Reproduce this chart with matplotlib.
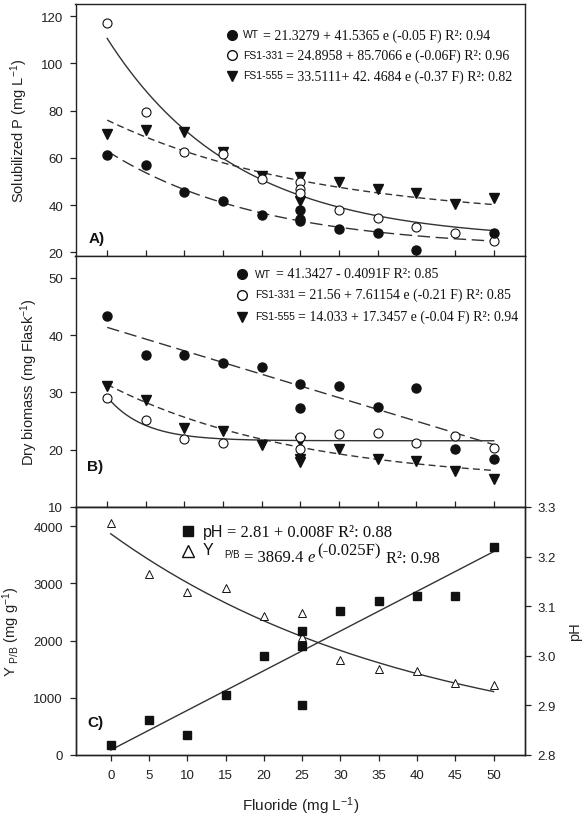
import numpy as np
import matplotlib.pyplot as plt

plt.rcParams['font.family'] = ['Liberation Sans', 'DejaVu Sans']
plt.rcParams['mathtext.fontset'] = 'custom'
plt.rcParams['mathtext.rm'] = 'Liberation Sans'
plt.rcParams['mathtext.it'] = 'Liberation Sans:italic'

W, H = 583, 829

# ---- panel A: solubilized P (mg/L)
wt_p_x = [0, 5, 10, 15, 20, 25, 25, 25, 30, 35, 40, 50]
wt_p_y = [61.2, 57.1, 45.6, 41.5, 35.8, 37.8, 34.1, 33.1, 29.9, 28.1, 21.0, 28.2]
fs331_p_x = [0, 5, 10, 15, 20, 25, 25, 25, 30, 35, 40, 45, 50]
fs331_p_y = [117.2, 79.3, 62.4, 61.7, 51.1, 49.9, 46.6, 45.1, 37.9, 34.5, 30.9, 28.1, 24.9]
fs555_p_x = [0, 5, 10, 15, 20, 25, 25, 30, 35, 40, 45, 50]
fs555_p_y = [70.1, 72.0, 70.8, 62.4, 52.2, 51.8, 41.9, 49.9, 46.8, 45.0, 40.5, 42.9]

# ---- panel B: dry biomass (mg/flask)
wt_b_x = [0, 5, 10, 15, 20, 25, 25, 30, 35, 40, 45, 50]
wt_b_y = [43.3, 36.5, 36.5, 35.1, 34.5, 31.4, 27.3, 31.2, 27.4, 30.8, 20.2, 18.4]
fs331_b_x = [0, 5, 10, 15, 25, 25, 30, 35, 40, 45, 50]
fs331_b_y = [29.0, 25.1, 21.9, 21.2, 22.3, 20.2, 22.7, 23.0, 21.2, 22.4, 20.3]
fs555_b_x = [0, 5, 10, 15, 20, 25, 25, 25, 30, 35, 40, 45, 50]
fs555_b_y = [31.2, 28.7, 23.8, 23.3, 20.9, 21.5, 18.4, 17.8, 20.2, 18.3, 18.0, 16.2, 14.8]

# ---- panel C: yield and pH
ypb_x = [0, 5, 10, 15, 20, 25, 25, 30, 35, 40, 45, 50]
ypb_y = [4052, 3166, 2857, 2921, 2437, 2478, 2058, 1668, 1504, 1464, 1254, 1224]
ph_x = [0, 5, 10, 15, 20, 25, 25, 25, 30, 35, 40, 45, 50]
ph_y = [2.82, 2.87, 2.84, 2.92, 3.00, 3.05, 3.02, 2.90, 3.09, 3.11, 3.12, 3.12, 3.22]

# fitted models as printed on the chart (a + b*exp(-k F))
fit_wt_p = (21.3279, 41.5365, 0.05)
fit_331_p = (24.8958, 85.7066, 0.06)
fit_555_p = (33.5111, 42.4684, 0.037)   # label says -0.37, curve drawn matches -0.037
fit_wt_b = (41.3427, -0.4091)           # linear
fit_331_b = (21.56, 7.61154, 0.21)
fit_555_b = (14.033, 17.3457, 0.04)
fit_ypb = (3869.4, 0.025)
fit_ph = (2.81, 0.008)

xticks = list(range(0, 55, 5))
ink = '#111111'
F = np.linspace(0, 50, 200)


def expfit(p):
    a, b, k = p
    return a + b * np.exp(-k * F)


def box(top, bot):
    l, r = 75.5, 525
    return [l / W, 1 - bot / H, (r - l) / W, (bot - top) / H]


def chain(fig, x, y, parts):
    # place text pieces one after another on the same line (pixel coords)
    r = fig.canvas.get_renderer()
    for s, dy, gap, kw in parts:
        t = fig.text((x + gap) / W, 1 - (y + dy) / H, s, va='baseline', ha='left',
                     color=ink, **kw)
        x = t.get_window_extent(r).x1


def key(fig, x, y, **kw):
    fig.add_artist(plt.Line2D([x / W], [1 - y / H], linestyle='none', color=ink, **kw))


fig = plt.figure(figsize=(W / 100, H / 100), dpi=100)
axA = fig.add_axes(box(5, 257))
axB = fig.add_axes(box(257, 508))
axC = fig.add_axes(box(508, 756))
axR = axC.twinx()

for ax in (axA, axB, axC, axR):
    for s in ax.spines.values():
        s.set_color('#222222')
        s.set_linewidth(1.0)
    ax.set_xticks(xticks)
    ax.tick_params(labelsize=9.5, length=4, width=0.9, color='#222222', labelcolor='#222222')
    ax.tick_params(axis='y', pad=5)

for ax in (axA, axB):
    ax.set_xlim(-4.1, 54.05)
    ax.tick_params(axis='x', direction='in', labelbottom=False)
axC.set_xlim(-4.6, 54.1)

# panel A
axA.plot(F, expfit(fit_wt_p), color='#333333', lw=1.0, dashes=(9, 4))
axA.plot(F, expfit(fit_331_p), color='#333333', lw=1.0)
axA.plot(F, expfit(fit_555_p), color='#333333', lw=1.0, dashes=(5, 3))
axA.plot(fs555_p_x, fs555_p_y, 'v', color=ink, ms=6.5)
axA.plot(fs331_p_x, fs331_p_y, 'o', mfc='white', mec=ink, mew=0.8, ms=6.5)
axA.plot(wt_p_x, wt_p_y, 'o', color=ink, ms=6.5)
axA.set_ylim(18.4, 125.2)
axA.set_yticks([20, 40, 60, 80, 100, 120])
axA.set_ylabel('Solubilized P (mg L$^{-1}$)', fontsize=10.5, color='#222222')
axA.yaxis.set_label_coords(-0.101, 0.5)
axA.text(0.029, 0.07, 'A)', transform=axA.transAxes, fontsize=11, fontweight='bold',
         color=ink, va='center')

# panel B
axB.plot(F, fit_wt_b[0] + fit_wt_b[1] * F, color='#333333', lw=1.0, dashes=(9, 4))
axB.plot(F, expfit(fit_331_b), color='#333333', lw=1.0)
axB.plot(F, expfit(fit_555_b), color='#333333', lw=1.0, dashes=(5, 3))
axB.plot(fs555_b_x, fs555_b_y, 'v', color=ink, ms=6.5)
axB.plot(fs331_b_x, fs331_b_y, 'o', mfc='white', mec=ink, mew=0.8, ms=6.5)
axB.plot(wt_b_x, wt_b_y, 'o', color=ink, ms=6.5)
axB.set_ylim(10, 53.8)
axB.set_yticks([10, 20, 30, 40, 50])
axB.set_ylabel('Dry biomass (mg Flask$^{-1}$)', fontsize=10.5, color='#222222')
axB.yaxis.set_label_coords(-0.079, 0.5)
axB.text(0.025, 0.163, 'B)', transform=axB.transAxes, fontsize=11, fontweight='bold',
         color=ink, va='center')

# panel C
axC.plot(F, fit_ypb[0] * np.exp(-fit_ypb[1] * F), color='#333333', lw=1.0)
axC.plot(ypb_x, ypb_y, '^', mfc='white', mec=ink, mew=0.7, ms=6)
axC.set_ylim(0, 4338)
axC.set_yticks([0, 1000, 2000, 3000, 4000])
axC.set_ylabel('Y $_{\\mathrm{P/B}}$ (mg g$^{-1}$)', fontsize=10.5, color='#222222')
axC.yaxis.set_label_coords(-0.12, 0.5)
axC.set_xlabel('Fluoride (mg L$^{-1}$)', fontsize=11, color='#222222', labelpad=10)
axC.tick_params(axis='x', pad=6)
axC.text(0.027, 0.133, 'C)', transform=axC.transAxes, fontsize=11, fontweight='bold',
         color=ink, va='center')

axR.plot(F, fit_ph[0] + fit_ph[1] * F, color='#333333', lw=1.0)
axR.plot(ph_x, ph_y, 's', color=ink, ms=5.5)
axR.set_ylim(2.8, 3.3)
axR.set_yticks([2.8, 2.9, 3.0, 3.1, 3.2, 3.3])
axR.set_yticklabels(['%.1f' % v for v in [2.8, 2.9, 3.0, 3.1, 3.2, 3.3]])
axR.set_ylabel('pH', fontsize=10.5, color='#222222', rotation=90)
axR.yaxis.set_label_coords(1.096, 0.5)

# legends, drawn as text pieces
serif = dict(family=['Liberation Serif', 'DejaVu Serif'], fontsize=10)
small = dict(fontsize=7.5)

key(fig, 232, 36, marker='o', ms=7)
chain(fig, 243, 39.5, [('WT', -1, 0, small), ('= 21.3279 + 41.5365 e (-0.05 F) R²: 0.94', 0, 4, serif)])
key(fig, 232, 56, marker='o', ms=7, mfc='white', mew=1.0)
chain(fig, 243, 60, [('FS1-331', -1, 0, small), ('= 24.8958 + 85.7066 e (-0.06F) R²: 0.96', 0, 3, serif)])
key(fig, 232, 77, marker='v', ms=7)
chain(fig, 243, 80.5, [('FS1-555', -1, 0, small), ('= 33.5111+ 42. 4684 e (-0.37 F) R²: 0.82', 0, 3, serif)])

key(fig, 242, 275, marker='o', ms=7)
chain(fig, 255, 278.5, [('WT', -1, 0, small), ('= 41.3427 - 0.4091F R²: 0.85', 0, 5, serif)])
key(fig, 242, 296, marker='o', ms=7, mfc='white', mew=1.0)
chain(fig, 255, 299, [('FS1-331', -1, 0, small), ('= 21.56 + 7.61154 e (-0.21 F) R²: 0.85', 0, 3, serif)])
key(fig, 242, 318, marker='v', ms=7)
chain(fig, 255, 321, [('FS1-555', -1, 0, small), ('= 14.033 + 17.3457 e (-0.04 F) R²: 0.94', 0, 3, serif)])

serifC = dict(family=['Liberation Serif', 'DejaVu Serif'], fontsize=12)
key(fig, 188, 532, marker='s', ms=7)
chain(fig, 203, 537, [('pH', 0, 0, dict(fontsize=11.5)), ('= 2.81 + 0.008F R²: 0.88', 0, 4, serifC)])
key(fig, 188, 551.5, marker='^', ms=8, mfc='white', mew=1.0)
chain(fig, 203, 555, [('Y', 0, 0, dict(fontsize=11.5)), ('P/B', 3, 11, dict(fontsize=7)),
                      ('= 3869.4', 7, 4, serifC),
                      ('e', 7, 4, dict(style='italic', **serifC)),
                      ('(-0.025F)', 0, 2, serifC),
                      ('R²: 0.98', 8, 5, serifC)])

fig.savefig('out.png', dpi=100)
